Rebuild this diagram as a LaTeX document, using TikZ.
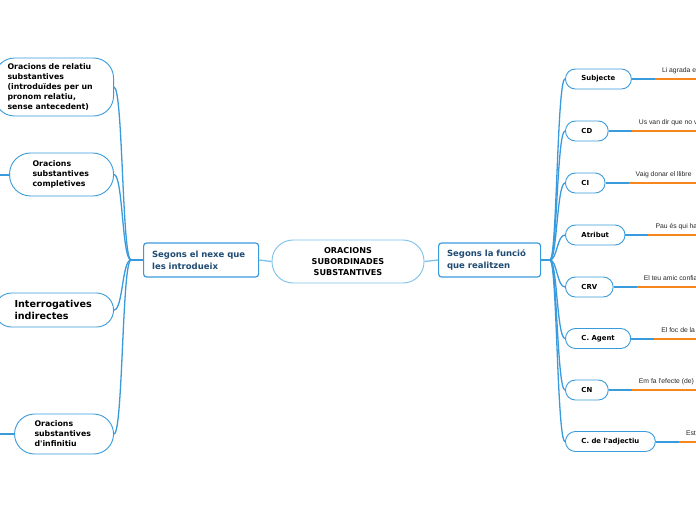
\documentclass[tikz,border=0pt]{standalone}
\usepackage{fontspec}
\setmainfont{DejaVu Sans}
\newfontfamily\examplefont{Liberation Sans}
\usetikzlibrary{positioning, calc}
\definecolor{branchblue}{HTML}{3A9BDC}
\definecolor{rootblue}{HTML}{7DC1EA}
\definecolor{hubtext}{HTML}{1F4B73}
\definecolor{leaforange}{HTML}{F7861E}

\begin{document}
\begin{tikzpicture}[x=1pt, y=-1pt,% styles used in the map
 root/.style = {draw=rootblue, line width=0.9pt, fill=white,
                rounded corners=21pt, minimum width=152pt, minimum height=43pt,
                align=center, font=\fontsize{8.1}{10.8}\selectfont\bfseries},
  hub/.style = {draw=branchblue, line width=1.2pt, fill=white,
                rounded corners=3pt, minimum height=34pt, inner xsep=8.5pt,
                align=left, text=hubtext, anchor=west,
                font=\fontsize{8.5}{12}\selectfont\bfseries},
 kind/.style = {draw=branchblue, line width=0.9pt, fill=white, anchor=east,
                align=left, font=\fontsize{7.8}{10}\selectfont\bfseries},
 role/.style = {draw=branchblue, line width=0.9pt, fill=white,
                rounded corners=10pt, minimum height=20pt, inner xsep=16pt,
                anchor=west, font=\fontsize{6.9}{8}\selectfont\bfseries},
sample/.style = {inner sep=0pt, text depth=0pt, text=black!85,
                font=\examplefont\fontsize{6.8}{8}\selectfont},
 link/.style = {draw=branchblue, line width=1.3pt},
 stub/.style = {draw=branchblue, line width=2pt},
 tail/.style = {draw=leaforange, line width=2pt}
                    ]
	\useasboundingbox (0,0) rectangle (696,520);
	\clip (0,0) rectangle (696,520);

	% centre and the two branches
	\node[root] (root) at (348,261.5) {ORACIONS\\SUBORDINADES\\SUBSTANTIVES};
	\node[hub, text width=98pt] (nexe) at (143,260) {Segons el nexe que\\les introdueix};
	\node[hub, text width=85pt] (funcio) at (438,260) {Segons la funció\\que realitzen};
	\draw[link, draw=rootblue] (nexe.east) -- (root.west);
	\draw[link, draw=rootblue] (root.east) -- (funcio.west);

	% left side: kinds by the nexus
	\node[kind, rounded corners=20pt, minimum height=58pt, inner xsep=13pt, text width=93pt]
		(relatiu) at (114,87) {Oracions de relatiu\\substantives\\(introduïdes per un\\pronom relatiu,\\sense antecedent)};
	\node[kind, rounded corners=21pt, minimum height=43pt, inner xsep=23pt, text width=58pt]
		(completives) at (114,174.5) {Oracions\\substantives\\completives};
	\node[kind, rounded corners=17pt, minimum height=34pt, inner xsep=20pt, text width=79pt,
		font=\fontsize{9.6}{12}\selectfont\bfseries]
		(interrog) at (114,310) {Interrogatives\\indirectes};
	\node[kind, rounded corners=20pt, minimum height=40pt, inner xsep=20pt, text width=59pt]
		(infinitiu) at (114,434) {Oracions\\substantives\\d\textquotesingle infinitiu};

	\coordinate (lhub) at (131,260);
	\draw[link] (nexe.west) -- (lhub);
	\foreach \k in {relatiu,completives,interrog,infinitiu}
		\draw[link] (lhub) .. controls +(-9,0) and +(9,0) .. (\k.east);

	\coordinate (completives-out) at (-10,174.5);
	\coordinate (infinitiu-out) at (-10,434);
	\draw[stub] (completives.west) -- (completives-out);
	\draw[stub] (infinitiu.west) -- (infinitiu-out);

	% right side: syntactic functions with an example each
	\coordinate (rhub) at (550,260);
	\draw[link] (funcio.east) -- (rhub);
	\foreach \rl/\yy/\lbl/\smp in {%
		subj/79/Subjecte/Li agrada e,
		cd/131/CD/Us van dir que no v,
		ci/183/CI/Vaig donar el llibre,
		atrib/235/Atribut/Pau és qui ha,
		crv/287/CRV/El teu amic confia,
		agent/338.5/C. Agent/El foc de la,
		cn/390/CN/Em fa l\textquotesingle efecte (de),
		adj/441.5/C. de l\textquotesingle adjectiu/Est}
	{
		\node[role] (\rl) at (565,\yy) {\lbl};
		\draw[link] (rhub) .. controls +(7,0) and +(-8,0) .. (\rl.west);
		\coordinate[right=23pt of \rl] (\rl-o);
		\draw[stub] (\rl.east) -- (\rl-o);
		\draw[tail] (\rl-o) -- ++(90,0);
		\node[sample, above right=6pt and 7pt of \rl-o] (\rl-ex) {\smp};
	}
\end{tikzpicture}
\end{document}
